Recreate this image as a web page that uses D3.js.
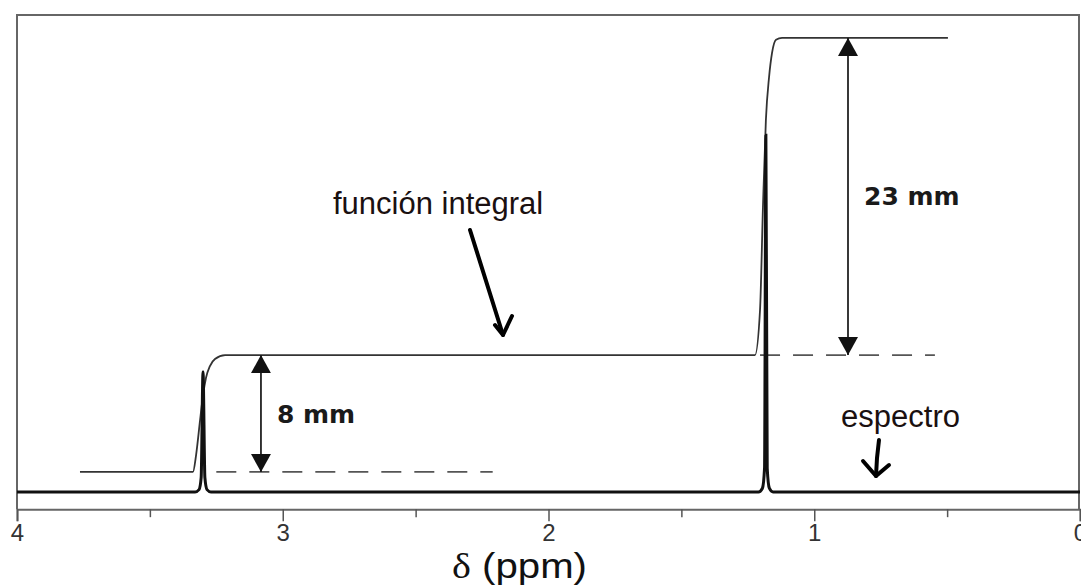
<!DOCTYPE html>
<html><head><meta charset="utf-8">
<script src="https://cdn.jsdelivr.net/npm/d3@7"></script>
<style>html,body{margin:0;padding:0;background:#fff;overflow:hidden}</style>
</head><body><svg id="c" width="1081" height="587"></svg>
<script>
// --- data (ppm, relative intensity) ---
const spectrum = [[4,0],[3.33,0],[3.315,0.5],[3.307,3],[3.300,25.2],[3.293,3],[3.285,0.5],[3.27,0],
  [1.21,0],[1.195,0.8],[1.187,5],[1.182,74.8],[1.177,5],[1.169,0.8],[1.155,0],[0,0]];
const integral = [[3.763,4.2],[3.338,4.2],[3.326,7.8],[3.311,15.1],[3.300,20.3],[3.289,23.9],[3.274,26.4],
  [3.255,27.9],[3.217,28.7],[1.223,28.7],[1.204,38.2],[1.193,59.7],[1.182,78.0],[1.170,87.0],
  [1.159,92.0],[1.144,94.8],[1.121,95.2],[0.497,95.2]];
const dashRefs = [[3.25,2.21,4.2],[1.204,0.546,28.7]];
const measures = [[3.082,4.2,28.7,"8 mm"],[0.873,28.7,95.2,"23 mm"]];
const majorTicks = [4,3,2,1,0];
const minorTicks = [3.5,2.5,1.5,0.5];
const axisTitle = ["δ", " (ppm)"];
const notes = [["función integral",2.811,58.3],["espectro",0.899,13.6]];

const svg = d3.select("#c");
const x = d3.scaleLinear().domain([4,0]).range([17,1080]);
const y = d3.scaleLinear().domain([0,100]).range([492,15]);

// frame
svg.append("path").attr("d",`M${x(4)},${y(-3.6)}V${y(100)}H${x(0)-1}V${y(-3.6)}`)
  .attr("fill","none").attr("stroke","#666").attr("stroke-width",2);

// axis
const axMajor = d3.axisBottom(x).tickValues(majorTicks).tickSize(12).tickFormat(d3.format("d"));
const gA = svg.append("g").attr("transform",`translate(0,${y(-3.6)})`).call(axMajor);
gA.select(".domain").attr("stroke","#666").attr("stroke-width",2);
gA.selectAll(".tick line").attr("stroke","#555").attr("stroke-width",1.5);
gA.selectAll(".tick text").attr("font-family","Liberation Sans Narrow, Liberation Sans, Arial").attr("font-size",24)
  .attr("fill","#333").attr("y",32).attr("dy",0);
const axMinor = d3.axisBottom(x).tickValues(minorTicks).tickSize(8).tickFormat("");
const gB = svg.append("g").attr("transform",`translate(0,${y(-3.6)})`).call(axMinor);
gB.select(".domain").remove();
gB.selectAll(".tick line").attr("stroke","#555").attr("stroke-width",1.5);
const tt = svg.append("text").attr("x",452).attr("y",578).attr("textLength",135).attr("lengthAdjust","spacingAndGlyphs")
  .attr("font-family","Liberation Sans, Arial").attr("font-size",35).attr("fill","#111");
tt.append("tspan").attr("font-family","Liberation Serif, DejaVu Serif").text(axisTitle[0]);
tt.append("tspan").text(axisTitle[1]);

// dashed reference lines
svg.selectAll(".dash").data(dashRefs).join("line")
  .attr("x1",d=>x(d[0])).attr("x2",d=>x(d[1])).attr("y1",d=>y(d[2])).attr("y2",d=>y(d[2]))
  .attr("stroke","#555").attr("stroke-width",1.8).attr("stroke-dasharray","20,13");

svg.append("path").datum(integral).attr("d",d3.line().x(d=>x(d[0])).y(d=>y(d[1])).curve(d3.curveMonotoneX))
  .attr("fill","none").attr("stroke","#333").attr("stroke-width",1.8);
svg.append("path").datum(spectrum).attr("d",d3.line().x(d=>x(d[0])).y(d=>y(d[1])).curve(d3.curveMonotoneX))
  .attr("fill","none").attr("stroke","#111").attr("stroke-width",3);

// measurement arrows
const defs = svg.append("defs");
["s","e"].forEach(k=>{
  defs.append("marker").attr("id","m"+k).attr("viewBox","0 0 20 18").attr("refX",10).attr("refY",k==="e"?18:0)
    .attr("markerWidth",20).attr("markerHeight",18).attr("markerUnits","userSpaceOnUse").attr("orient","0")
    .append("path").attr("d",k==="e"?"M0,0L20,0L10,18Z":"M10,0L20,18L0,18Z").attr("fill","#111");
});
measures.forEach(m=>{
  svg.append("line").attr("x1",x(m[0])).attr("x2",x(m[0])).attr("y1",y(m[2])).attr("y2",y(m[1]))
    .attr("stroke","#222").attr("stroke-width",1.8).attr("marker-start","url(#ms)").attr("marker-end","url(#me)");
  const ym = (y(m[1])+y(m[2]))/2;
  svg.append("text").attr("x",x(m[0])+16).attr("y",ym+9).attr("font-family","DejaVu Sans").attr("font-weight","bold")
    .attr("font-size",25).attr("fill","#1a1a1a").text(m[3]);
});

// labels
notes.forEach(n=>{
  svg.append("text").attr("x",x(n[1])).attr("y",y(n[2])).attr("font-family","Liberation Sans, Arial")
    .attr("font-size",31).attr("fill","#1a1010").text(n[0]);
});
// hand-drawn pointer arrows
const pointers = [
  [[470,230],[503,335]],[[495,325],[503,335],[512,316]],
  [[879,440],[877,458],[876,476]],[[863,461],[876,476],[889,465]]
];
pointers.forEach(p=>{
  svg.append("path").attr("d",d3.line()(p)).attr("fill","none").attr("stroke","#000")
    .attr("stroke-width",4).attr("stroke-linecap","round").attr("stroke-linejoin","round");
});
</script></body></html>
